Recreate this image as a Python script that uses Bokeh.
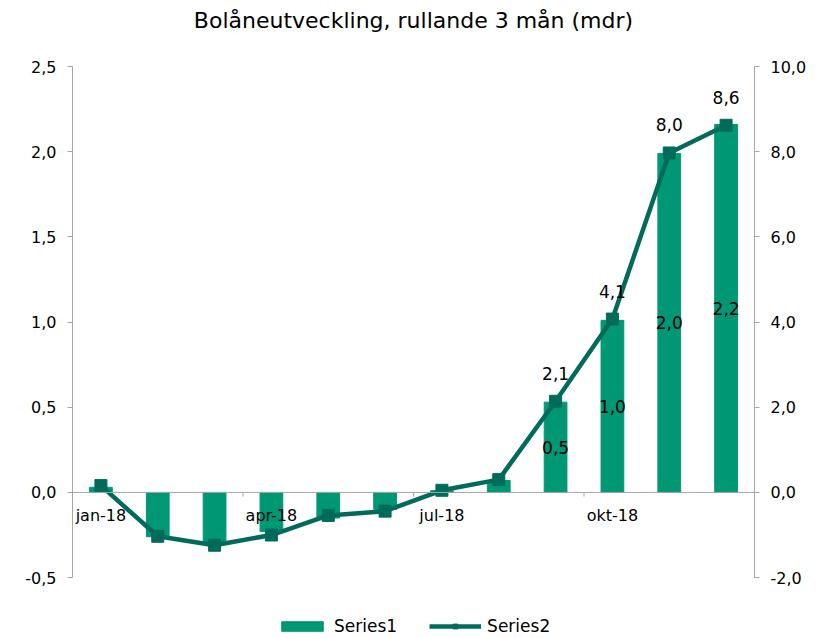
from bokeh.plotting import figure
from bokeh.models import (Range1d, LinearAxis, FixedTicker, CustomJSTickFormatter,
                          ColumnDataSource, LabelSet, Legend, LegendItem, Span, Title)
from bokeh.embed import file_html
from bokeh.resources import INLINE
from bokeh.core.properties import value

# ---- data ----
months = ["jan-18", "feb-18", "mar-18", "apr-18", "maj-18", "jun-18",
          "jul-18", "aug-18", "sep-18", "okt-18", "nov-18", "dec-18"]
series1 = [0.03, -0.26, -0.30, -0.23, -0.15, -0.10, 0.01, 0.07, 0.53, 1.01, 1.99, 2.16]
series2 = [0.16, -1.03, -1.24, -1.00, -0.54, -0.44, 0.05, 0.30, 2.14, 4.07, 7.97, 8.62]
left_ticks = [-0.5, 0.0, 0.5, 1.0, 1.5, 2.0, 2.5]
right_ticks = [-2.0, 0.0, 2.0, 4.0, 6.0, 8.0, 10.0]
shown_months = ["jan-18", "apr-18", "jul-18", "okt-18"]
labelled_months = ["sep-18", "okt-18", "nov-18", "dec-18"]
title_text = "Bolåneutveckling, rullande 3 mån (mdr)"

BAR = "#009874"
LINE = "#006B5A"
AXIS = "#A6A6A6"
FONT = "DejaVu Sans"

# layout: axis area 512px tall, plus 61px below it for the legend (inside the frame)
AXIS_PX = 512
EXTRA_PX = 61

def fmt(v):
    return f"{v:.1f}".replace(".", ",")

def padded(lo, hi):
    return Range1d(lo - (hi - lo) * EXTRA_PX / AXIS_PX, hi)

idx = list(range(len(months)))
src = ColumnDataSource(dict(x=idx, s1=series1, s2=series2))

p = figure(width=833, height=638, output_backend="svg", toolbar_location=None,
           x_range=Range1d(-0.5, len(months) - 0.5),
           y_range=padded(left_ticks[0], left_ticks[-1]),
           x_axis_location=None,
           min_border_left=72, min_border_right=79, min_border_top=65, min_border_bottom=0)
p.extra_y_ranges = {"right": padded(right_ticks[0], right_ticks[-1])}
p.outline_line_color = None
p.grid.visible = False
p.background_fill_color = "white"

# real title (outer) ...
p.title.text = title_text
p.title.align = "center"
p.title.text_font = FONT
p.title.text_font_size = "22px"
p.title.text_font_style = "normal"
p.title.text_color = "#000000"
p.title.standoff = 10
# ... and an empty spacer title between it and the plot area
p.add_layout(Title(text=" ", text_font_size="2px", standoff=25), "above")

# left axis
la = p.yaxis[0]
la.ticker = FixedTicker(ticks=left_ticks)
la.bounds = (left_ticks[0], left_ticks[-1])
la.formatter = CustomJSTickFormatter(code="return tick.toFixed(1).replace('.', ',');")
ra = LinearAxis(y_range_name="right", ticker=FixedTicker(ticks=right_ticks),
                bounds=(right_ticks[0], right_ticks[-1]),
                formatter=CustomJSTickFormatter(code="return tick.toFixed(1).replace('.', ',');"))
p.add_layout(ra, "right")
for ax in (la, ra):
    ax.axis_line_color = AXIS
    ax.major_tick_line_color = AXIS
    ax.major_tick_in = 0
    ax.major_tick_out = 5
    ax.minor_tick_line_color = None
    ax.major_label_text_font = FONT
    ax.major_label_text_font_size = "16px"
    ax.major_label_text_color = "#000000"
    ax.major_label_standoff = 11

# zero line acting as category axis
p.add_layout(Span(location=0, dimension="width", line_color=AXIS, line_width=1))
tick_x = [i - 0.5 for i in idx[3::3]] + [len(months) - 0.5]
p.segment(x0=tick_x, x1=tick_x, y0=[0] * len(tick_x), y1=[-0.024] * len(tick_x),
          line_color=AXIS, line_width=1)

bars = p.vbar(x="x", top="s1", bottom=0, width=0.4, source=src,
              fill_color=BAR, line_color=BAR)
line = p.line(x="x", y="s2", source=src, y_range_name="right",
              line_color=LINE, line_width=4.5)
marks = p.scatter(x="x", y="s2", source=src, y_range_name="right", marker="square",
                  size=12, fill_color=LINE, line_color=LINE)

# category labels
cat_src = ColumnDataSource(dict(x=[months.index(m) for m in shown_months],
                                y=[0] * len(shown_months), t=shown_months))
p.add_layout(LabelSet(x="x", y="y", text="t", source=cat_src, y_offset=-23,
                      text_align="center", text_baseline="middle",
                      text_font=value(FONT), text_font_size="16px", text_color="#000000"))

li = [months.index(m) for m in labelled_months]
bar_lbl = ColumnDataSource(dict(x=li, y=[series1[i] / 2 for i in li],
                                t=[fmt(series1[i]) for i in li]))
p.add_layout(LabelSet(x="x", y="y", text="t", source=bar_lbl,
                      text_align="center", text_baseline="middle",
                      text_font=value(FONT), text_font_size="17px", text_color="#000000"))
line_lbl = ColumnDataSource(dict(x=li, y=[series2[i] for i in li],
                                 t=[fmt(series2[i]) for i in li]))
p.add_layout(LabelSet(x="x", y="y", text="t", source=line_lbl, y_range_name="right",
                      y_offset=28, text_align="center", text_baseline="middle",
                      text_font=value(FONT), text_font_size="17px", text_color="#000000"))

legend = Legend(items=[LegendItem(label="Series1", renderers=[bars]),
                       LegendItem(label="Series2", renderers=[line, marks])],
                orientation="horizontal", location=(204, 2),
                glyph_width=52, glyph_height=12, label_standoff=6, spacing=32,
                label_text_font=FONT, label_text_font_size="17px",
                label_text_color="#000000", border_line_color=None,
                background_fill_alpha=0, padding=2, margin=0)
p.add_layout(legend, "center")

open("out.html", "w").write(file_html(p, INLINE))
